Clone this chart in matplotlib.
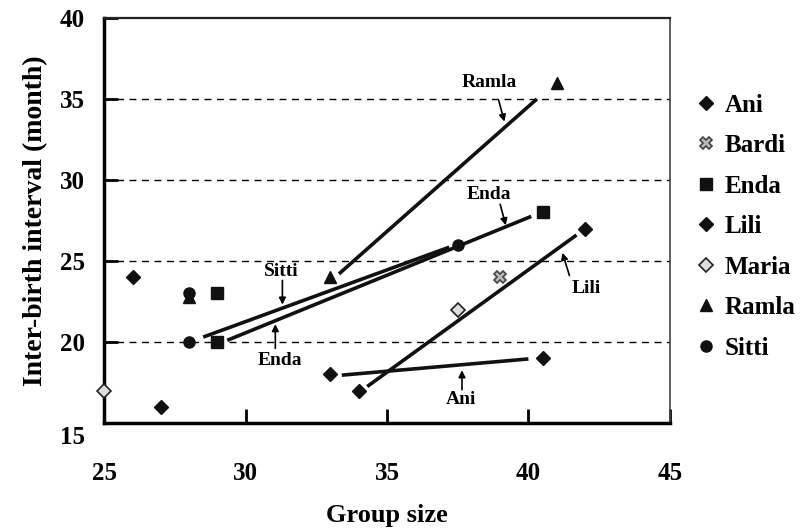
import matplotlib.pyplot as plt
import matplotlib.transforms as mtransforms

plt.rcParams['font.family'] = ['Liberation Serif', 'DejaVu Serif']
plt.rcParams['font.weight'] = 'bold'

# points
ani_x = [26, 33, 40.5]
ani_y = [24, 18, 19]
bardi_x = [39]
bardi_y = [24]
enda_x = [29, 29, 40.5]
enda_y = [23, 20, 28]
lili_x = [27, 34, 42]
lili_y = [16, 17, 27]
maria_x = [25, 37.5]
maria_y = [17, 22]
ramla_x = [28, 33, 41]
ramla_y = [22.8, 24, 36]
sitti_x = [28, 28, 37.5]
sitti_y = [23, 20, 26]

# trend lines (start, end)
trend_lines = {
    "Ramla": ([33.3, 40.3], [24.2, 35.0]),
    "Enda": ([29.35, 40.1], [20.1, 27.75]),
    "Sitti": ([28.5, 37.2], [20.3, 25.85]),
    "Lili": ([34.3, 41.7], [17.25, 26.6]),
    "Ani": ([33.4, 40.0], [17.95, 18.95]),
}

# label, text pos, arrow tail, arrow tip
notes = [
    ("Ramla", (38.6, 36.0), (38.95, 34.9), (39.15, 33.6)),
    ("Enda", (38.6, 29.1), (39.0, 28.5), (39.2, 27.2)),
    ("Sitti", (31.25, 24.35), (31.3, 23.8), (31.3, 22.3)),
    ("Enda", (31.2, 18.85), (31.05, 19.6), (31.05, 21.1)),
    ("Lili", (42.05, 23.3), (41.45, 24.1), (41.2, 25.5)),
    ("Ani", (37.6, 16.45), (37.65, 17.05), (37.65, 18.25)),
]

fig = plt.figure(figsize=(8.08, 5.28), dpi=100)
ax = fig.add_axes([0.129, 0.199, 0.700, 0.767])

for yy in [20, 25, 30, 35]:
    ax.axhline(yy, color='black', linestyle=(0, (5, 4)), linewidth=1.0, zorder=1)

for name, (lx, ly) in trend_lines.items():
    ax.plot(lx, ly, color='#111111', linewidth=2.6, solid_capstyle='butt', zorder=2)

ax.plot(ani_x, ani_y, linestyle='none', marker='D', ms=6.8, color='#111111', label='Ani', zorder=3)
ax.plot(bardi_x, bardi_y, linestyle='none', marker='X', ms=9, mfc='#bbbbbb', mec='#444444',
        mew=1.2, label='Bardi', zorder=3)
ax.plot(enda_x, enda_y, linestyle='none', marker='s', ms=8, color='#111111', label='Enda', zorder=3)
ax.plot(lili_x, lili_y, linestyle='none', marker='D', ms=6.8, color='#111111', label='Lili', zorder=3)
ax.plot(maria_x, maria_y, linestyle='none', marker='D', ms=7, mfc='#dddddd', mec='#222222',
        mew=1.2, label='Maria', zorder=3, clip_on=False)
ax.plot(ramla_x, ramla_y, linestyle='none', marker='^', ms=8.5, color='#111111', label='Ramla', zorder=3)
ax.plot(sitti_x, sitti_y, linestyle='none', marker='o', ms=8, color='#111111', label='Sitti', zorder=3)

for text, tpos, tail, tip in notes:
    ax.text(tpos[0], tpos[1], text, fontsize=14, fontweight='bold', ha='center', va='center', zorder=4)
    ax.annotate('', xy=tip, xytext=tail,
                arrowprops=dict(arrowstyle='-|>', color='black', lw=1.2,
                                mutation_scale=10, shrinkA=0, shrinkB=0), zorder=4)

ax.set_xlim(25, 45)
ax.set_ylim(15, 40)
ax.set_xticks([25, 30, 35, 40, 45])
ax.set_yticks([15, 20, 25, 30, 35, 40])

ax.tick_params(axis='x', direction='in', length=10, width=2, pad=28, labelsize=18)
ax.tick_params(axis='y', direction='in', length=10, width=2, pad=14, labelsize=18)
for lab in ax.get_xticklabels() + ax.get_yticklabels():
    lab.set_fontweight('bold')
# the bottom y label sits a little lower in the picture
lab15 = ax.get_yticklabels()[0]
lab15.set_transform(lab15.get_transform() + mtransforms.ScaledTranslation(0, -12 / 100, fig.dpi_scale_trans))

ax.spines['left'].set_linewidth(2.5)
ax.spines['bottom'].set_linewidth(2.5)
ax.spines['top'].set_linewidth(1.6)
ax.spines['right'].set_linewidth(1.2)
ax.spines['top'].set_color('#222222')
ax.spines['right'].set_color('#444444')

ax.set_xlabel("Group size", fontsize=19, fontweight='bold', labelpad=14)
ax.set_ylabel("Inter-birth interval (month)", fontsize=20, fontweight='bold', labelpad=8)

leg = ax.legend(loc='upper left', bbox_to_anchor=(1.03, 0.838), frameon=False, fontsize=18,
                handlelength=0.7, handletextpad=0.4, labelspacing=0.7, borderaxespad=0)
for t in leg.get_texts():
    t.set_fontweight('bold')

fig.savefig("out.png", dpi=100)
